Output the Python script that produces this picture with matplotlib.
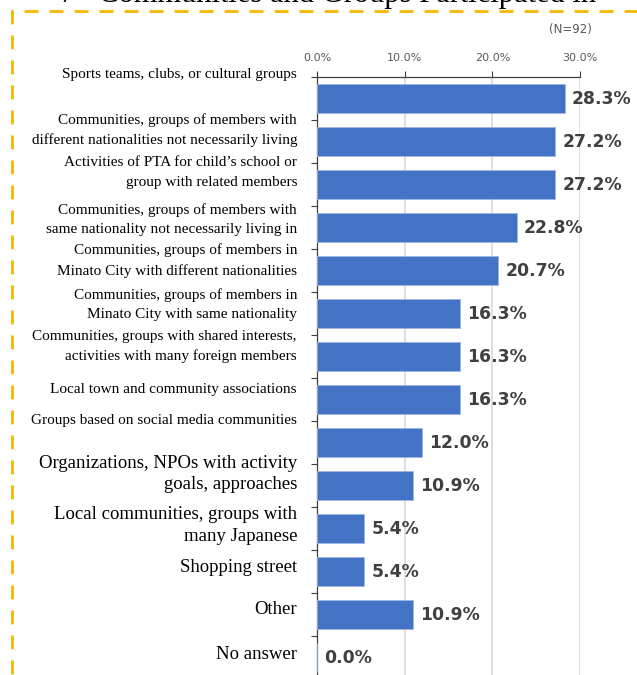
import numpy as np
import matplotlib
matplotlib.use('Agg')
import matplotlib.pyplot as plt
from matplotlib.patches import Rectangle
from matplotlib.transforms import blended_transform_factory

# Data
categories = [
    'Sports teams, clubs, or cultural groups',
    'Communities, groups of members with\ndifferent nationalities not necessarily living',
    'Activities of PTA for child\u2019s school or\ngroup with related members',
    'Communities, groups of members with\nsame nationality not necessarily living in',
    'Communities, groups of members in\nMinato City with different nationalities',
    'Communities, groups of members in\nMinato City with same nationality',
    'Communities, groups with shared interests,\nactivities with many foreign members',
    'Local town and community associations',
    'Groups based on social media communities',
    'Organizations, NPOs with activity\ngoals, approaches',
    'Local communities, groups with\nmany Japanese',
    'Shopping street',
    'Other',
    'No answer',
]
values = [28.3, 27.2, 27.2, 22.8, 20.7, 16.3, 16.3, 16.3, 12.0, 10.9, 5.4, 5.4, 10.9, 0.0]
xticks = [0, 10, 20, 30]
title = '7   Communities and Groups Participated in'
n_label = '(N=92)'

# label placement (offset in category units, font size)
label_offsets = [-0.56, -0.26, -0.28, -0.19, -0.23, -0.21, -0.23, -0.23, -0.51,
                 -0.26, -0.07, -0.09, -0.12, -0.07]
label_sizes = [11] * 9 + [13.5] * 5

W, H = 637, 675
fig = plt.figure(figsize=(W / 100, H / 100), dpi=100)

# dashed frame
frame = Rectangle((12 / W, -0.1), 1.2, (H - 11) / H + 0.1, transform=fig.transFigure,
                  fill=False, edgecolor='#F7B500', linewidth=2.0,
                  linestyle=(0, (5, 4)), clip_on=False)
fig.patches.append(frame)

fig.text(60 / W, 1 - 2 / H, title, fontsize=22, family='Liberation Serif',
         ha='left', va='baseline', color='black')
fig.text(592 / W, 1 - 30 / H, n_label, fontsize=8.5, color='#595959', ha='right', va='center')

ax = fig.add_axes([317 / W, 1 - 679 / H, 263 / W, 602 / H])
y = np.arange(len(values))
ax.barh(y, values, height=0.67, color='#4472C4', edgecolor='#9DB5E3', linewidth=0.6, zorder=3)

ax.set_xlim(0, 30)
ax.set_ylim(len(values) - 0.5, -0.5)
ax.set_xticks(xticks)
ax.set_xticklabels([f'{v:.1f}%' for v in xticks], fontsize=8, color='#595959')
ax.xaxis.tick_top()
ax.tick_params(axis='x', length=4, width=0.8, color='#404040', pad=6)
ax.grid(axis='x', color='#D9D9D9', linewidth=1.2, zorder=0)

ax.set_yticks(np.arange(len(values) + 1) - 0.5)
ax.set_yticklabels([])
ax.tick_params(axis='y', length=4, width=0.8, color='#404040')

for s in ['right', 'bottom']:
    ax.spines[s].set_visible(False)
for s in ['left', 'top']:
    ax.spines[s].set_color('#404040')
    ax.spines[s].set_linewidth(0.9)

for i, v in enumerate(values):
    ax.text(v + 0.8, i, f'{v:.1f}%', va='center', ha='left', fontsize=12.4,
            fontweight='bold', color='#404040', zorder=4)

trans = blended_transform_factory(ax.transAxes, ax.transData)
for i, lab in enumerate(categories):
    ls = 1.63 if label_sizes[i] < 12 else 1.32
    ax.text(-20 / 263, i + label_offsets[i], lab, transform=trans, ha='right', va='center',
            fontsize=label_sizes[i], family='Liberation Serif', linespacing=ls,
            multialignment='right', clip_on=False)

fig.savefig('out.png', dpi=100)
